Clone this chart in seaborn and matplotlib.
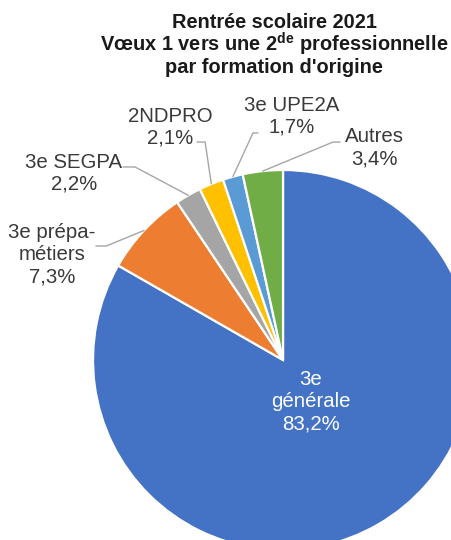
import numpy as np
import matplotlib
matplotlib.use("Agg")
import matplotlib.pyplot as plt
import seaborn as sns

# Data
categories = ["3e\ngénérale", "3e prépa-\nmétiers", "3e SEGPA", "2NDPRO", "3e UPE2A", "Autres"]
shares = [83.2, 7.3, 2.2, 2.1, 1.7, 3.4]
colors = ["#4472C4", "#ED7D31", "#A5A5A5", "#FFC000", "#5B9BD5", "#70AD47"]

sns.set_style("white")
plt.rcParams['font.family'] = ['Liberation Sans', 'DejaVu Sans']
plt.rcParams['mathtext.fontset'] = 'custom'
plt.rcParams['mathtext.rm'] = 'Liberation Sans:bold'
plt.rcParams['mathtext.bf'] = 'Liberation Sans:bold'

fig = plt.figure(figsize=(4.52, 5.4), dpi=100)
ax = fig.add_axes([0.2058, -0.0185, 0.8407, 0.7037])

wedges, _ = ax.pie(shares, colors=colors, startangle=90, counterclock=False,
                   wedgeprops=dict(edgecolor="white", linewidth=1.6))
ax.set_xlim(-1, 1)
ax.set_ylim(-1, 1)
ax.set_aspect("equal")
ax.axis("off")

# label centres and leader line start points (pie units)
label_pos = [(0.147, -0.221), (-1.216, 0.553), (-1.10, 0.984),
             (-0.595, 1.226), (0.047, 1.284), (0.479, 1.116)]
leader_start = [None,
                [(-0.985, 0.60), (-0.93, 0.60)],
                [(-0.842, 1.016), (-0.779, 1.016)],
                [(-0.453, 1.147), (-0.41, 1.147)],
                [(-0.132, 1.195), (-0.158, 1.195)],
                [(0.30, 1.147), (0.263, 1.147)]]

for i, (w, cat, val) in enumerate(zip(wedges, categories, shares)):
    txt = f"{cat}\n{val:.1f}%".replace(".", ",")
    col = "white" if i == 0 else "#3a3a3a"
    ax.text(*label_pos[i], txt, ha="center", va="center", fontsize=14.7,
            color=col, linespacing=1.2, clip_on=False)
    if leader_start[i] is not None:
        ang = np.deg2rad((w.theta1 + w.theta2) / 2)
        pts = leader_start[i] + [(np.cos(ang), np.sin(ang))]
        xs, ys = zip(*pts)
        ax.plot(xs, ys, color="#A6A6A6", lw=1.0, clip_on=False)

fig.text(274 / 452, 1 - 45 / 540,
         "Rentrée scolaire 2021\nVœux 1 vers une 2$^{\\mathrm{de}}$ professionnelle\npar formation d'origine",
         ha="center", va="center", fontsize=14.4, fontweight="bold", color="#1a1a1a",
         linespacing=0.95)

fig.savefig("out.png", dpi=100, facecolor="white")
